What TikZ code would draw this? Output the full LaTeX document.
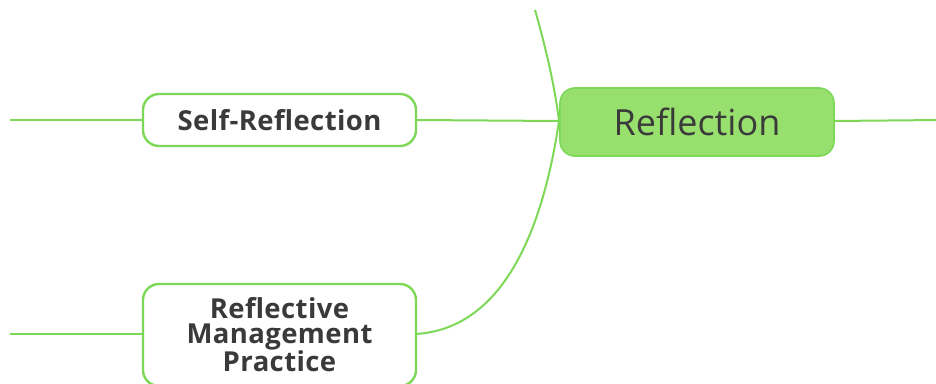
\documentclass[tikz,border=0pt]{standalone}
\usepackage{fontspec}
\setmainfont{Open Sans}
\definecolor{branch}{RGB}{125,216,88}
\definecolor{rootfill}{RGB}{152,224,110}
\definecolor{ink}{RGB}{58,58,58}
\begin{document}
\begin{tikzpicture}[x=1pt,y=-1pt,
  link/.style={draw=branch,line width=2pt},
  topic/.style={draw=branch,line width=2.4pt,fill=white,rounded corners=16pt,
    minimum width=273pt,inner sep=0pt,align=center,text=ink,
    font=\fontsize{27.5}{24.5}\selectfont\bfseries\addfontfeatures{LetterSpace=1.5}},
  central/.style={draw=branch,line width=1.6pt,fill=rootfill,rounded corners=15pt,
    minimum width=274pt,minimum height=68pt,inner sep=0pt,text=ink,
    font=\fontsize{36}{40}\selectfont}]
\useasboundingbox (0,0) rectangle (936,383);
\clip (0,0) rectangle (936,383);

% free ends of the branches that leave the view
\coordinate (upper) at (535,10);
\coordinate (farright) at (940,120);
\coordinate (leftA) at (10,120);
\coordinate (leftB) at (10,334);

% connectors first, boxes drawn over them
\coordinate (hub) at (559,121);
\draw[link] (upper) .. controls (548,55) and (556,95) .. (hub);
\draw[link] (416,120) -- (hub);
\draw[link] (416,334) .. controls (510,328) and (545,215) .. (hub);
\draw[link] (leftA) -- (143,120);
\draw[link] (leftB) -- (143,334);
\draw[link] (834,121) -- (farright);

\node[central] (root) at (697,122) {Reflection};
\node[topic,minimum height=52pt] (self) at (279.5,120) {Self-Reflection};
\node[topic,minimum height=102pt] (rmp) at (279.5,335) {Reflective\\Management\\Practice};
\end{tikzpicture}
\end{document}
